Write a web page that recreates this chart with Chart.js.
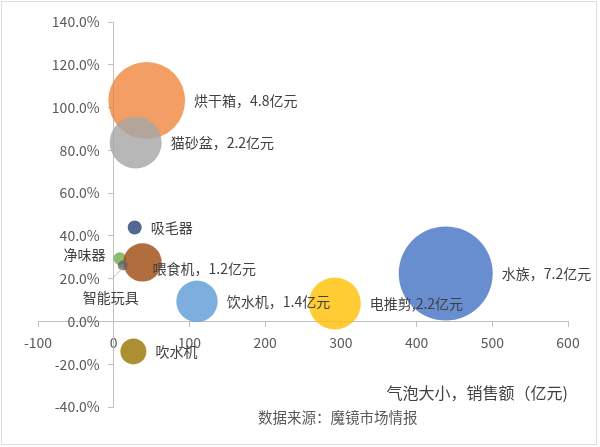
<!DOCTYPE html>
<html><head><meta charset="utf-8">
<script src="https://cdn.jsdelivr.net/npm/chart.js@4/dist/chart.umd.min.js"></script>
<style>html,body{margin:0;padding:0;background:#fff}#wrap{width:600px;height:447px;position:relative}</style>
</head><body><div id="wrap"><canvas id="c" width="600" height="447"></canvas></div>
<script>
// ---- data ----
const categories = ['烘干箱','猫砂盆','吸毛器','净味器','喂食机','智能玩具','饮水机','电推剪','水族','吹水机'];
const xValues = [43.6, 29, 27.7, 8, 38, 12, 110, 292, 438.5, 26];
const yValues = [103.3, 83.7, 43.9, 29.4, 27.6, 26.2, 9.4, 8.4, 22.4, -14];
const sales = [4.8, 2.2, 0.16, 0.13, 1.2, 0.08, 1.4, 2.2, 7.2, 0.55];
const pointLabels = ['烘干箱，4.8亿元','猫砂盆，2.2亿元','吸毛器','净味器','喂食机，1.2亿元','智能玩具','饮水机，1.4亿元','电推剪,2.2亿元','水族，7.2亿元','吹水机'];
const xTickValues = [-100, 0, 100, 200, 300, 400, 500, 600];
const yTickValues = [-40, -20, 0, 20, 40, 60, 80, 100, 120, 140];
const sizeTitle = '气泡大小，销售额（亿元)';
const sourceText = '数据来源：魔镜市场情报';

// ---- styles ----
const colors = ['rgba(237,125,49,0.75)','rgba(165,165,165,0.8)','rgba(38,68,120,0.8)','rgba(112,173,71,0.8)',
  'rgba(158,72,14,0.8)','rgba(99,99,99,0.8)','rgba(91,155,213,0.8)','rgba(255,192,0,0.8)','rgba(68,114,196,0.8)','rgba(153,115,0,0.8)'];
const labelPlacement = ['right','right','right','left','custom','below','right','right','right','right'];
const FONT = '"Noto Sans CJK SC","Noto Sans",sans-serif';
const plotArea = {left: 38, top: 22, right: 568, bottom: 407};
const yLabelGap = 14;
const maxRadius = 47;
const maxSales = Math.max(...sales);

const points = categories.map((c, i) => ({x: xValues[i], y: yValues[i], r: maxRadius * Math.sqrt(sales[i] / maxSales)}));

const labelPlugin = {
  id: 'bubbleLabels',
  afterLayout(chart) {
    const xs = chart.scales.x, ys = chart.scales.y;
    const a = plotArea;
    xs.left = a.left; xs.right = a.right; xs.width = a.right - a.left;
    ys.top = a.top; ys.bottom = a.bottom; ys.height = a.bottom - a.top;
    chart.chartArea = {left: a.left, top: a.top, right: a.right, bottom: a.bottom, width: a.right - a.left, height: a.bottom - a.top};
    xs.configure(); ys.configure();
    xs._labelItems = null; ys._labelItems = null; xs._gridLineItems = null; ys._gridLineItems = null;
    if (!ys._shiftPatched) {
      const orig = ys._computeLabelItems.bind(ys);
      ys._computeLabelItems = function (ca) {
        const items = orig(ca);
        items.forEach(it => {
          if (it.options && it.options.translation) it.options.translation[0] -= yLabelGap;
        });
        return items;
      };
      ys._shiftPatched = true;
    }
  },
  afterDatasetsDraw(chart) {
    const ctx = chart.ctx;
    const meta = chart.getDatasetMeta(0);
    ctx.save();
    ctx.font = '14px ' + FONT;
    ctx.fillStyle = '#404040';
    ctx.textBaseline = 'middle';
    meta.data.forEach((el, i) => {
      const r = points[i].r;
      const p = labelPlacement[i];
      if (p === 'right') {
        ctx.textAlign = 'left';
        ctx.fillText(pointLabels[i], el.x + r + 9, el.y);
      } else if (p === 'left') {
        ctx.textAlign = 'right';
        ctx.fillText(pointLabels[i], el.x - r - 8, el.y - 4);
      } else if (p === 'custom') {
        ctx.textAlign = 'left';
        ctx.fillText(pointLabels[i], el.x + 10, el.y + 6);
      } else if (p === 'below') {
        ctx.strokeStyle = '#BFBFBF';
        ctx.lineWidth = 1;
        ctx.beginPath();
        ctx.moveTo(el.x - 11, el.y + 14);
        ctx.lineTo(el.x - 1, el.y + 3);
        ctx.stroke();
        ctx.textAlign = 'center';
        ctx.fillText(pointLabels[i], el.x - 12, el.y + 32);
      }
    });
    ctx.restore();
  },
  afterDraw(chart) {
    const ctx = chart.ctx;
    ctx.save();
    ctx.fillStyle = '#404040';
    ctx.textBaseline = 'middle';
    ctx.textAlign = 'right';
    ctx.font = '16px ' + FONT;
    ctx.fillText(sizeTitle, chart.chartArea.right, 393);
    ctx.fillStyle = '#595959';
    ctx.textAlign = 'left';
    ctx.font = '14.5px ' + FONT;
    ctx.fillText(sourceText, 258, 417);
    ctx.strokeStyle = '#DDDDDD';
    ctx.lineWidth = 1;
    ctx.strokeRect(1.5, 1.5, 595, 443);
    ctx.restore();
  }
};

new Chart(document.getElementById('c'), {
  type: 'bubble',
  data: {
    datasets: [{
      data: points,
      backgroundColor: colors,
      borderWidth: 0,
      hoverBorderWidth: 0
    }]
  },
  options: {
    responsive: false,
    animation: false,
    layout: {padding: {left: 38, right: 32, top: 22, bottom: 40}},
    plugins: {legend: {display: false}, tooltip: {enabled: false}},
    scales: {
      x: {
        type: 'linear', position: {y: 0}, min: -100, max: 600,
        afterBuildTicks: s => { s.ticks = xTickValues.map(v => ({value: v})); },
        ticks: {color: '#595959', font: {size: 14, family: FONT}, padding: 8, callback: v => String(v)},
        grid: {display: true, drawOnChartArea: false, drawTicks: true, tickLength: 5, color: '#BFBFBF'},
        border: {display: true, color: '#BFBFBF'}
      },
      y: {
        type: 'linear', position: {x: 0}, min: -40, max: 140,
        afterBuildTicks: s => { s.ticks = yTickValues.map(v => ({value: v})); },
        ticks: {color: '#595959', font: {size: 14, family: FONT}, padding: 8, callback: v => v.toFixed(1) + '%'},
        grid: {display: true, drawOnChartArea: false, drawTicks: true, tickLength: 5, color: '#BFBFBF'},
        border: {display: true, color: '#BFBFBF'}
      }
    }
  },
  plugins: [labelPlugin]
});
</script></body></html>
